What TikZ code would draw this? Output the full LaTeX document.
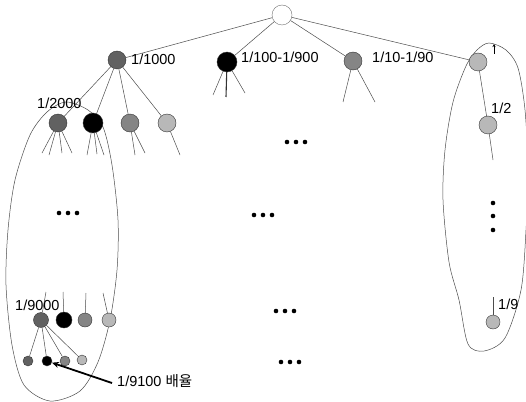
\documentclass[tikz,border=0pt]{standalone}
\usepackage{fontspec}
\setmainfont{Liberation Sans}
\newfontfamily\krfont{Noto Sans CJK KR}
\usetikzlibrary{arrows.meta}
\begin{document}
\begin{tikzpicture}[x=1pt,y=-1pt,
  ball/.style={circle,draw=black!80,line width=0.4pt,inner sep=0pt,minimum size=18pt},
  dk/.style={fill=black!62},
  bk/.style={fill=black},
  md/.style={fill=black!48},
  lt/.style={fill=black!28},
  edge/.style={draw=black!70,line width=0.5pt},
  lbl/.style={anchor=west,inner sep=0pt,font=\fontsize{14.5}{16}\selectfont},
  loop/.style={draw=black!70,line width=0.5pt}
]
\useasboundingbox (0,0) rectangle (526,401);

% grouping outlines
\draw[loop] plot[smooth cycle] coordinates {(66,102) (88,110) (103,127) (112,165) (118,220) (117,270) (110,320) (98,362) (80,391) (50,401) (24,385) (12,345) (6,285) (8,230) (15,180) (30,135) (47,112)};
\draw[loop] plot[smooth cycle] coordinates {(489,43) (506,50) (518,68) (525,110) (528,170) (526,230) (521,290) (505,338) (484,351) (468,344) (459,300) (449,262) (443,200) (445,150) (453,102) (466,66) (477,50)};

% tree nodes
\node[ball,fill=white,draw=black!55,minimum size=20pt] (root) at (282,15) {};
\node[ball,dk] (a) at (117,60) {};
\node[ball,bk,minimum size=20pt] (b) at (227,62) {};
\node[ball,md] (c) at (353,61) {};
\node[ball,lt] (d) at (478,62) {};

\node[ball,dk] (a1) at (58,123) {};
\node[ball,bk,minimum size=20pt] (a2) at (93,123) {};
\node[ball,md] (a3) at (130,123) {};
\node[ball,lt] (a4) at (167,123) {};

\node[ball,lt] (d2) at (488,125) {};
\node[ball,lt,minimum size=14pt] (d9) at (493,322) {};

\node[ball,dk,minimum size=15pt] (e1) at (41,320) {};
\node[ball,bk,minimum size=16pt] (e2) at (64,320) {};
\node[ball,md,minimum size=14pt] (e3) at (85,320) {};
\node[ball,lt,minimum size=14pt] (e4) at (109,320) {};

\node[ball,dk,minimum size=10pt] (f1) at (28,361) {};
\node[ball,bk,minimum size=10pt] (f2) at (47,361) {};
\node[ball,md,minimum size=10pt] (f3) at (65,361) {};
\node[ball,lt,minimum size=10pt] (f4) at (82,360) {};

% connectors
\foreach \p/\q in {root/a,root/b,root/c,root/d,a/a1,a/a2,a/a3,a/a4,d/d2,e1/f1,e1/f2,e1/f3,e1/f4}
  \draw[edge] (\p) -- (\q);

% open branches
\foreach \n/\x/\y [count=\i] in {a1/42/153,a1/49/155,a1/62/153,a1/72/153,
    a2/87/155,a2/97/154,a2/104/155,a3/135/155,a3/145/153,a4/180/155,
    b/213/95,b/245/93,c/343/102,c/375/102,d2/493/160,d9/493/297,
    e1/46/292,e2/63/292,e3/86/293,e4/103/293}
  {\coordinate (stub\i) at (\x,\y); \draw[edge] (\n) -- (stub\i);}
\coordinate (bmid) at (226,97);
\draw[draw=black!80,line width=1.1pt] (b) -- (bmid);

% labels
\node[lbl] (l1000) at (131,59) {1/1000};
\node[lbl] (l100) at (241,57) {1/100-1/900};
\node[lbl] (l10) at (372,57) {1/10-1/90};
\node[lbl] (l2000) at (37,103) {1/2000};
\node[lbl] (lhalf) at (491,108) {1/2};
\node[lbl] (l9000) at (15,305) {1/9000};
\node[lbl] (lninth) at (498,304) {1/9};
\node[lbl] (l9100) at (117,381) {1/9100 {\krfont 배율}};

% pointer to the magnified node
\coordinate (atail) at (112,383);
\draw[line width=1.8pt,-{Stealth[length=7pt,width=6pt]}] (atail) -- (f2);

% small tick at the top of the right group
\coordinate (tk1) at (494,54);
\coordinate (tk2) at (494,44);
\draw[line width=0.6pt,-{Stealth[length=3pt,width=3pt]}] (tk1) -- (tk2);

% ellipsis dots
\foreach \cx/\cy in {296/142,263/215,285/311,290/362,68/213}
  \foreach \dx in {-9,0,9}
    \fill (\cx+\dx,\cy) circle (2.3);
\foreach \cy in {203,216,230}
  \fill (493,\cy) circle (2.3);
\end{tikzpicture}
\end{document}
